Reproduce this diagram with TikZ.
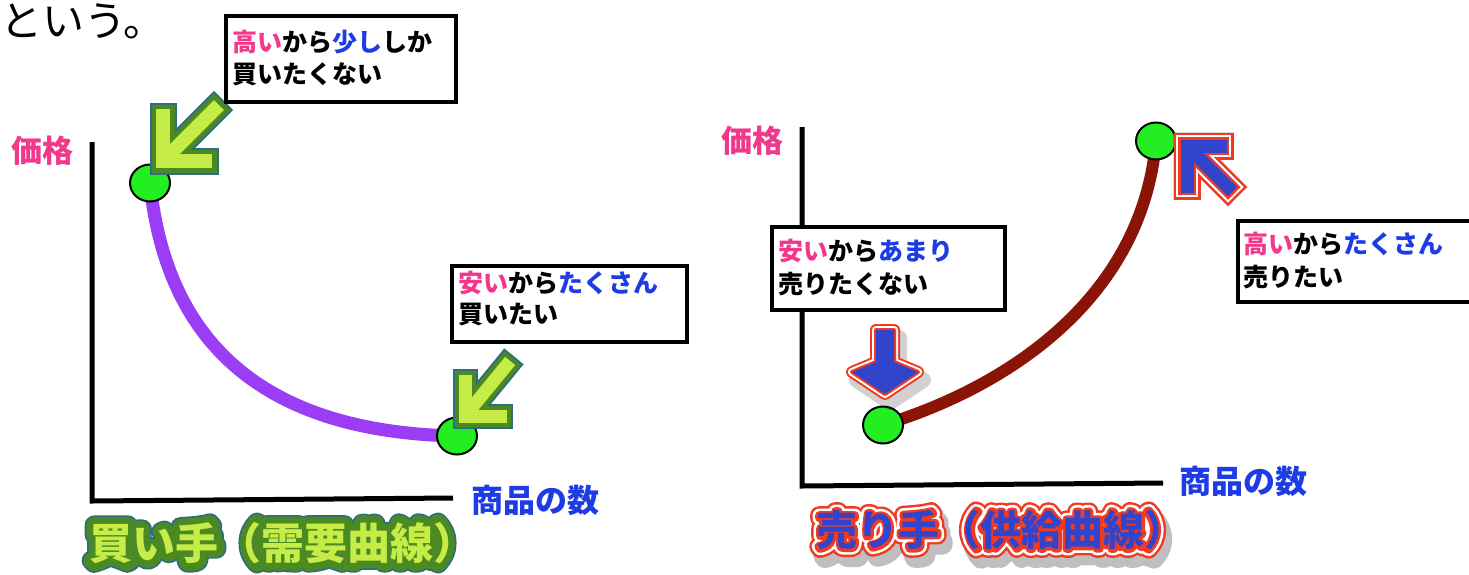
\documentclass[tikz,border=0pt]{standalone}
\usepackage{fontspec}
\newfontfamily\jp{Noto Sans CJK JP}
\newfontfamily\jpLa[FakeBold=46]{Noto Sans CJK JP}
\newfontfamily\jpLb[FakeBold=38]{Noto Sans CJK JP}
\newfontfamily\jpRs[FakeBold=49]{Noto Sans CJK JP}
\newfontfamily\jpRa[FakeBold=44]{Noto Sans CJK JP}
\newfontfamily\jpRb[FakeBold=32]{Noto Sans CJK JP}
\newfontfamily\jpRc[FakeBold=19.5]{Noto Sans CJK JP}
\usetikzlibrary{calc,shapes.geometric}
\definecolor{pinkt}{HTML}{F2388C}
\definecolor{bluet}{HTML}{1E3CE6}
\definecolor{gfill}{HTML}{C5EC47}
\definecolor{gdark}{HTML}{4B8A23}
\definecolor{gedge}{HTML}{2E6E7E}
\definecolor{rcurve}{HTML}{8A1406}
\definecolor{pcurve}{HTML}{9B3DF5}
\definecolor{dotg}{HTML}{22EE22}
\definecolor{ared}{HTML}{F03A22}
\definecolor{ablue}{HTML}{3344CC}
\tikzset{
  box/.style={draw=black, line width=4pt, fill=white, inner sep=0, anchor=north west},
  bt/.style={font=\jp\bfseries\fontsize{25}{25}\selectfont, anchor=west, inner sep=0},
  lbl/.style={font=\jp\bfseries\fontsize{31}{31}\selectfont, inner sep=0},
  lbltwo/.style={font=\jp\bfseries\fontsize{32}{32}\selectfont, inner sep=0},
  ttl/.style={font=\jp\bfseries\fontsize{43}{43}\selectfont, inner sep=0},
  ttr/.style={font=\jp\bfseries\fontsize{41}{41}\selectfont, inner sep=0},
  axis/.style={line width=5pt, line join=miter, line cap=butt},
  dot/.style={ellipse, draw=black, line width=2pt, fill=dotg, minimum width=40pt, minimum height=37pt, inner sep=0},
  chev/.style={line join=miter, line cap=rect},
}
\begin{document}
\begin{tikzpicture}[x=1pt,y=-1pt]
\useasboundingbox (0,0) rectangle (1469,574);
\fill[white] (0,0) rectangle (1469,574);

% top text
\node[font=\jp\fontsize{42}{42}\selectfont, anchor=west, inner sep=0] (iu) at (0,21) {という。};

% ---------- left panel ----------
\coordinate (ly) at (92,142);
\coordinate (lo) at (92,501);
\coordinate (lx) at (453,498);
\draw[axis] (ly) -- (lo) -- (lx);

\coordinate (p1) at (150,183);
\coordinate (p2) at (457,436);
\draw[line width=13pt, draw=pcurve] (p1) .. controls (165,330) and (250,432) .. (p2);
\node[dot] (d1) at (p1) {};
\node[dot] (d2) at (p2) {};

% green arrows
\coordinate (ga1c) at (163,161); \coordinate (ga1a) at (163,116);
\coordinate (ga1b) at (205,161); \coordinate (ga1s) at (214,110);
\coordinate (ga2c) at (465,416); \coordinate (ga2a) at (465,381);
\coordinate (ga2b) at (500,416); \coordinate (ga2s) at (506,366);
\foreach \w/\c in {27/gedge,23/gdark,14/gfill}{
  \draw[chev, line width=\w pt, draw=\c] (ga1a) -- (ga1c) -- (ga1b);
  \draw[chev, line width=\w pt, draw=\c] ($(ga1c)!14pt!(ga1s)$) -- (ga1s);
}
\foreach \w/\c in {25/gedge,21/gdark,13/gfill}{
  \draw[chev, line width=\w pt, draw=\c] (ga2a) -- (ga2c) -- (ga2b);
  \draw[chev, line width=\w pt, draw=\c] ($(ga2c)!13pt!(ga2s)$) -- (ga2s);
}

% boxes left
\node[box, minimum width=230pt, minimum height=86pt] (box1) at (224,14) {};
\node[bt] (b1a) at (232,42) {\textcolor{pinkt}{高い}から\textcolor{bluet}{少し}しか};
\node[bt] (b1b) at (232,74) {買いたくない};

\node[box, minimum width=235pt, minimum height=76pt] (box2) at (450,264) {};
\node[bt] (b2a) at (458,283) {\textcolor{pinkt}{安い}から\textcolor{bluet}{たくさん}};
\node[bt] (b2b) at (458,315) {買いたい};

\node[lbl, text=pinkt] (lyl) at (42,151) {価格};
\node[lbltwo, text=bluet] (lxl) at (535,500) {商品の数};

% left title (outlined text)
\coordinate (t1) at (283,543);
\begin{scope}[line join=round]
\node[inner sep=0, font=\jpLa\fontsize{43}{43}\selectfont, text=gedge] (t1a) at (t1) {買い手（需要曲線）};
\node[inner sep=0, font=\jpLb\fontsize{43}{43}\selectfont, text=gdark] (t1b) at (t1) {買い手（需要曲線）};
\end{scope}
\node[ttl, text=gfill] (title1) at (t1) {買い手（需要曲線）};

% ---------- right panel ----------
\coordinate (ry) at (802,127);
\coordinate (ro) at (802,486);
\coordinate (rx) at (1163,483);
\draw[axis] (ry) -- (ro) -- (rx);

\node[box, minimum width=233pt, minimum height=83pt] (box3) at (770,225) {};
\node[bt] (b3a) at (778,251) {\textcolor{pinkt}{安い}から\textcolor{bluet}{あまり}};
\node[bt] (b3b) at (778,284) {売りたくない};

\node[box, minimum width=240pt, minimum height=81pt] (box4) at (1236,219) {};
\node[bt] (b4a) at (1243,244) {\textcolor{pinkt}{高い}から\textcolor{bluet}{たくさん}};
\node[bt] (b4b) at (1243,277) {売りたい};

\coordinate (q1) at (883,425);
\coordinate (q2) at (1156,141);
\draw[line width=12pt, draw=rcurve] (q1) .. controls (1005,388) and (1142,300) .. (q2);
\node[dot] (d3) at (q1) {};
\node[dot] (d4) at (q2) {};

% down arrow
\draw[black, opacity=0.18, line width=16pt, line join=round, shift={(5,8)}]
  (876,330) -- (894,330) -- (894,362) -- (918,372) -- (885,394) -- (852,372) -- (876,362) -- cycle;
\foreach \w/\c in {12/ared,8/white,4/ared}{
  \draw[line width=\w pt, draw=\c, line join=round]
  (876,330) -- (894,330) -- (894,362) -- (918,372) -- (885,394) -- (852,372) -- (876,362) -- cycle;
}
\fill[ablue] (876,330) -- (894,330) -- (894,362) -- (918,372) -- (885,394) -- (852,372) -- (876,362) -- cycle;

% up-left arrow
\coordinate (ba1c) at (1187,146); \coordinate (ba1a) at (1187,186);
\coordinate (ba1b) at (1220,146); \coordinate (ba1s) at (1228,187);
\begin{scope}[shift={(6,8)}]
  \draw[chev, line width=28pt, draw=black, opacity=0.15] (ba1a) -- (ba1c) -- (ba1b);
  \draw[chev, line width=28pt, draw=black, opacity=0.15] ($(ba1c)!18pt!(ba1s)$) -- (ba1s);
\end{scope}
\foreach \w/\c in {27/ared,22/white,18/ared,13/ablue}{
  \draw[chev, line width=\w pt, draw=\c] (ba1a) -- (ba1c) -- (ba1b);
  \draw[chev, line width=\w pt, draw=\c] ($(ba1c)!14pt!(ba1s)$) -- (ba1s);
}

\node[lbl, text=pinkt] (ryl) at (752,141) {価格};
\node[lbltwo, text=bluet] (rxl) at (1243,481) {商品の数};

% right title (outlined text with shadow)
\coordinate (t2) at (1001,530);
\coordinate (t2s) at (1006,539);
\begin{scope}[line join=round]
\node[inner sep=0, font=\jpRs\fontsize{41}{41}\selectfont, text=black!25] (t2sh) at (t2s) {売り手（供給曲線）};
\node[inner sep=0, font=\jpRa\fontsize{41}{41}\selectfont, text=ared] (t2a) at (t2) {売り手（供給曲線）};
\node[inner sep=0, font=\jpRb\fontsize{41}{41}\selectfont, text=white] (t2b) at (t2) {売り手（供給曲線）};
\node[inner sep=0, font=\jpRc\fontsize{41}{41}\selectfont, text=ared] (t2c) at (t2) {売り手（供給曲線）};
\end{scope}
\node[ttr, text=ablue] (title2) at (t2) {売り手（供給曲線）};
\end{tikzpicture}
\end{document}
